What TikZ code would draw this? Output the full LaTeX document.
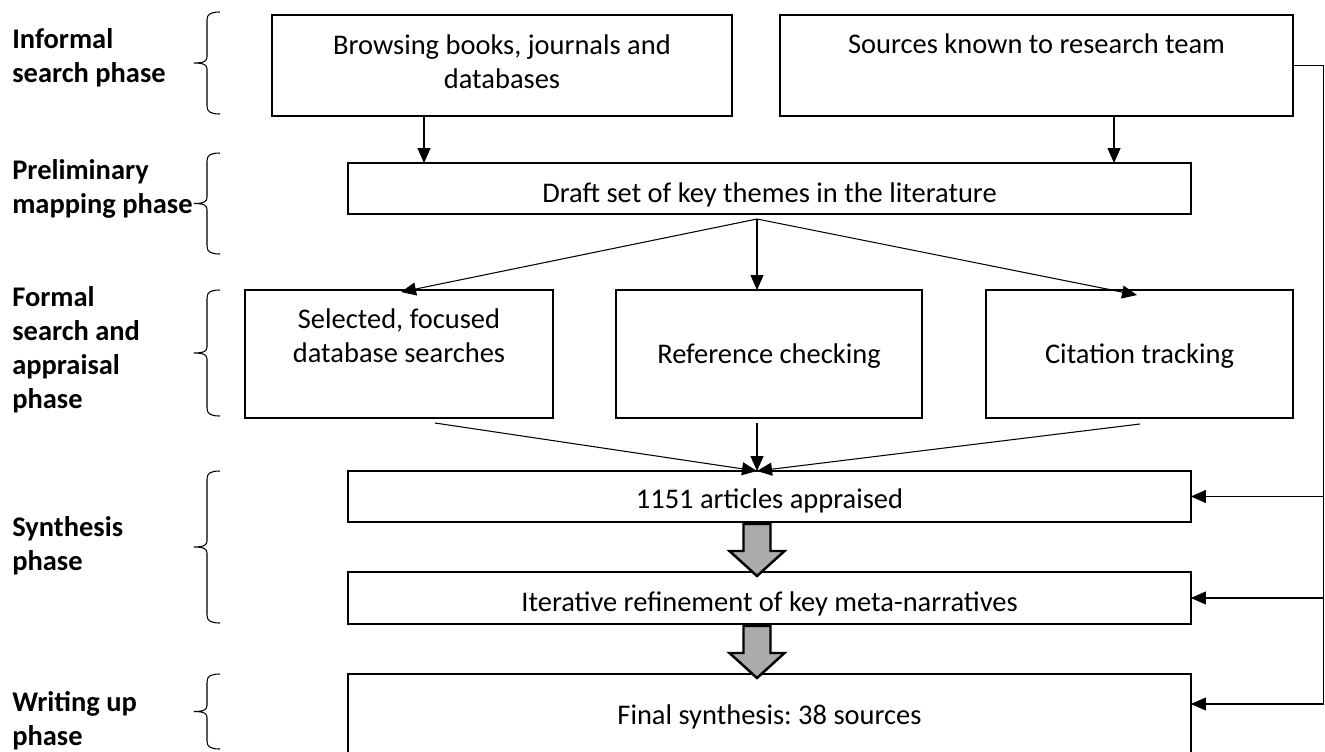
\documentclass[tikz,border=0pt]{standalone}
\usepackage{fontspec}
\setmainfont{Carlito}
\usetikzlibrary{arrows.meta, positioning, calc, decorations.pathreplacing}

\newcommand\diagfont{\fontsize{16.2pt}{19.3pt}\selectfont\frenchspacing}

\tikzset{
  box/.style={draw, line width=0.7pt, inner sep=0pt, outer sep=0pt},
  boxtext/.style={anchor=base, align=center, inner sep=0pt, font=\diagfont},
  phase/.style={anchor=base west, align=left, inner sep=0pt, font=\diagfont\bfseries},
  link/.style={->, line width=0.6pt},
  fatarrow/.style={draw, fill=black!33, line width=1.4pt, line join=miter},
  phasebrace/.style={line width=0.6pt}
}

\begin{document}
\begin{tikzpicture}[x=0.02cm, y=-0.02cm, >={Triangle[length=0.3cm, width=0.26cm]}]
\useasboundingbox (0,0) rectangle (1325,751);
\clip (0,0) rectangle (1325,751);

% phases on the left
\node[phase] (infphase) at (12,82) {Informal\\search phase};
\node[phase] (prephase) at (12,213) {Preliminary\\mapping phase};
\node[phase] (formphase) at (12,408) {Formal\\search and\\appraisal\\phase};
\node[phase] (synphase) at (12,570) {Synthesis\\phase};
\node[phase] (wriphase) at (12,745) {Writing up\\phase};

\foreach \a/\b [evaluate=\a as \m using (\a+\b)/2] in {12/114, 153/254, 290/416, 471/623, 674/749}
  \draw[phasebrace] (220,\a) .. controls (211,\a) and (207,\a+2) .. (207,\a+8)
    -- (207,\m-6) .. controls (207,\m-2) and (204,\m) .. (194,\m)
    .. controls (204,\m) and (207,\m+2) .. (207,\m+6)
    -- (207,\b-8) .. controls (207,\b-2) and (211,\b) .. (220,\b);

% boxes
\node[box, minimum width=9.2cm, minimum height=2.02cm] (browse) at (502,65.5) {};
\node[box, minimum width=10.26cm, minimum height=2.02cm] (sources) at (1036.5,65.5) {};
\node[box, minimum width=16.86cm, minimum height=1.02cm] (draft) at (769.5,188.5) {};
\node[box, minimum width=6.16cm, minimum height=2.56cm] (select) at (399,354) {};
\node[box, minimum width=6.12cm, minimum height=2.56cm] (refchk) at (769,354) {};
\node[box, minimum width=6.14cm, minimum height=2.56cm] (cite) at (1139.5,354) {};
\node[box, minimum width=16.86cm, minimum height=1.02cm] (apprais) at (769.5,496.5) {};
\node[box, minimum width=16.86cm, minimum height=1.04cm] (iter) at (769.5,598) {};
\node[box, minimum width=16.86cm, minimum height=1.92cm] (final) at (769.5,722) {};

\node[boxtext] (browse-txt) at (502,88) {Browsing books, journals and\\databases};
\node[boxtext] (sources-txt) at (1036.5,53) {Sources known to research team};
\node[boxtext] (draft-txt) at (769.5,202) {Draft set of key themes in the literature};
\node[boxtext] (select-txt) at (399,362) {Selected, focused\\database searches};
\node[boxtext] (refchk-txt) at (769,363) {Reference checking};
\node[boxtext] (cite-txt) at (1139.5,363) {Citation tracking};
\node[boxtext] (apprais-txt) at (769.5,508) {1151 articles appraised};
\node[boxtext] (iter-txt) at (769.5,611) {Iterative refinement of key meta-narratives};
\node[boxtext] (final-txt) at (769.5,724) {Final synthesis: 38 sources};

% connectors
\draw[link] (browse.south -| 424,0) -- (draft.north -| 424,0);
\draw[link] (sources.south -| 1114,0) -- (draft.north -| 1114,0);

\coordinate (split) at (757,219);
\draw[link] (split) -- ($(select.north)+(2,2)$);
\draw[link] (split) -- (refchk.north -| split);
\draw[link] (split) -- ($(cite.north)+(-2.5,5)$);

\coordinate (merge) at (apprais.north -| split);
\draw[link] ($(select.south)+(36,5)$) -- (merge);
\draw[link] ($(refchk.south -| split)+(0,5)$) -- (merge);
\draw[link] ($(cite.south)+(0.5,6)$) -- (merge);

\draw[link] (sources.east) -- ++(31,0) coordinate (rail) |- ($(final.east)+(0,-18)$);
\foreach \n in {apprais, iter}
  \draw[link] (rail |- \n.east) -- (\n.east);

\foreach \n in {apprais, iter}
  \draw[fatarrow] ($(\n.south)+(-26,2)$) -- ++(27,0) -- ++(0,27) -- ++(14,0)
    -- ++(-27.5,25) -- ++(-27.5,-25) -- ++(14,0) -- cycle;
\end{tikzpicture}
\end{document}
